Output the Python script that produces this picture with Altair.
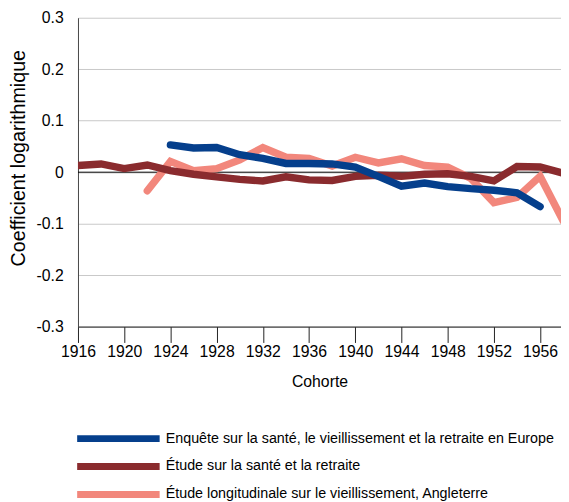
import altair as alt
import pandas as pd

FONT = "Liberation Sans"

S1 = "Enquête sur la santé, le vieillissement et la retraite en Europe"
S2 = "Étude sur la santé et la retraite"
S3 = "Étude longitudinale sur le vieillissement, Angleterre"
series_names = [S1, S2, S3]
series_colors = ["#053f8c", "#8a2b2e", "#f2877c"]

share_years = list(range(1924, 1957, 2))
share_vals = [0.053, 0.047, 0.048, 0.034, 0.027, 0.017, 0.017, 0.016, 0.010,
              -0.008, -0.027, -0.021, -0.028, -0.032, -0.035, -0.040, -0.067]

hrs_years = list(range(1916, 1959, 2))
hrs_vals = [0.013, 0.016, 0.007, 0.014, 0.003, -0.004, -0.009, -0.014, -0.017,
            -0.009, -0.015, -0.016, -0.008, -0.006, -0.008, -0.004, -0.003,
            -0.008, -0.017, 0.011, 0.010, -0.002]

elsa_years = list(range(1922, 1959, 2))
elsa_vals = [-0.036, 0.021, 0.003, 0.007, 0.024, 0.048, 0.029, 0.027, 0.012,
             0.029, 0.018, 0.026, 0.013, 0.010, -0.012, -0.059, -0.049,
             -0.008, -0.095]

x_ticks = list(range(1916, 1957, 4))
y_ticks = [-0.3, -0.2, -0.1, 0.0, 0.1, 0.2, 0.3]
zero_line = [0.0]

df = pd.concat([
    pd.DataFrame({"year": share_years, "value": share_vals, "series": S1}),
    pd.DataFrame({"year": hrs_years, "value": hrs_vals, "series": S2}),
    pd.DataFrame({"year": elsa_years, "value": elsa_vals, "series": S3}),
], ignore_index=True)

W = 490
H = 313.4
XMAX = 1916 + W / 11.72

x_enc = alt.X(
    "year:Q",
    scale=alt.Scale(domain=[1916, XMAX], nice=False, zero=False),
    axis=alt.Axis(values=x_ticks, format="d", title="Cohorte", tickSize=16,
                  labelPadding=1.5, grid=False, domainColor="#222222",
                  tickColor="#222222", labelFlush=False, titlePadding=14),
)
y_enc = alt.Y(
    "value:Q",
    scale=alt.Scale(domain=[-0.3, 0.3], nice=False, zero=False),
    axis=alt.Axis(values=y_ticks,
                  labelExpr="abs(datum.value) < 1e-9 ? '0' : (datum.value < 0 ? '-' : '') + format(abs(datum.value), '.1f')",
                  title="Coefficient logarithmique", ticks=False, labelPadding=15,
                  gridColor="#c8c8c8", domainColor="#444444",
                  titleAngle=270, titleX=-60, titleY=142, titleAlign="center",
                  titleBaseline="middle", titleFontSize=20),
)
color_enc = alt.Color(
    "series:N",
    scale=alt.Scale(domain=series_names, range=series_colors),
    legend=alt.Legend(orient="none", legendX=33, legendY=419, direction="vertical",
                      title=None, symbolType="M-10,0H10", symbolSize=70,
                      symbolStrokeWidth=7, labelFontSize=14.5, labelFont=FONT,
                      labelColor="black", labelOffset=40, rowPadding=0.3,
                      padding=0, symbolOffset=0, labelLimit=1000),
)

base = alt.Chart(df)
zero = alt.Chart(pd.DataFrame({"value": zero_line})).mark_rule(
    color="black", strokeWidth=1).encode(y=alt.Y("value:Q"))

layers = [zero]
for name in [S3, S2, S1]:
    layers.append(
        base.transform_filter(alt.datum.series == name)
        .mark_line(strokeWidth=7.5, strokeCap="round", clip=True)
        .encode(x=x_enc, y=y_enc, color=color_enc)
    )

chart = alt.layer(*layers).properties(
    width=W, height=H,
    autosize=alt.AutoSizeParams(type="none"),
    padding={"left": 71, "top": 6.3, "right": 0, "bottom": 174.3},
).configure_view(stroke=None).configure_axis(
    labelFont=FONT, titleFont=FONT, labelFontSize=16, titleFontSize=16,
    labelColor="black", titleColor="black", titleFontWeight="normal",
)

chart.save("out.html", embed_options={"renderer": "svg", "actions": False})
